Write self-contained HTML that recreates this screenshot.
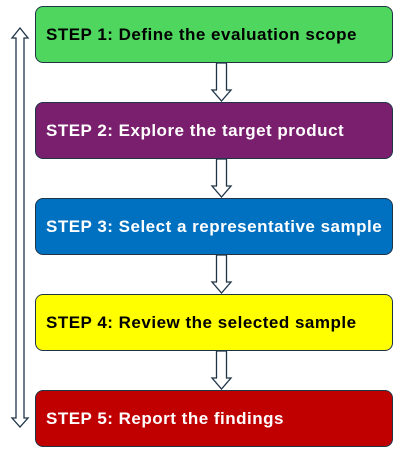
<!DOCTYPE html>
<html><head><style>
body{margin:0;width:400px;height:456px;background:#fff;position:relative;overflow:hidden;font-family:"Liberation Sans",sans-serif}
.b{position:absolute;left:35px;width:358px;height:57px;border:1.5px solid #1f3447;border-radius:8px;box-sizing:border-box;font-weight:bold;font-size:17px;line-height:56px;padding-left:10px;letter-spacing:0.5px}
</style></head><body>
<div class="b" style="top:6px;background:#4ed65f;color:#000">STEP 1: Define the evaluation scope</div>
<div class="b" style="top:102px;background:#7a1f6e;color:#fff">STEP 2: Explore the target product</div>
<div class="b" style="top:198px;background:#0070c0;color:#fff">STEP 3: Select a representative sample</div>
<div class="b" style="top:294px;background:#ffff00;color:#000">STEP 4: Review the selected sample</div>
<div class="b" style="top:390px;background:#c00000;color:#fff">STEP 5: Report the findings</div>
<svg width="400" height="456" style="position:absolute;left:0;top:0" fill="#fff" stroke="#1f3447" stroke-width="1.3">
<path d="M216.5 63V90H212L221.5 101L231 90H226.5V63Z"/>
<path d="M216.5 159V186H212L221.5 197L231 186H226.5V159Z"/>
<path d="M216.5 255V282H212L221.5 293L231 282H226.5V255Z"/>
<path d="M216.5 351V378H212L221.5 389L231 378H226.5V351Z"/>
<path d="M16 38H12L20 28L28 38H24V418H28L20 427L12 418H16Z"/>
</svg>
</body></html>
